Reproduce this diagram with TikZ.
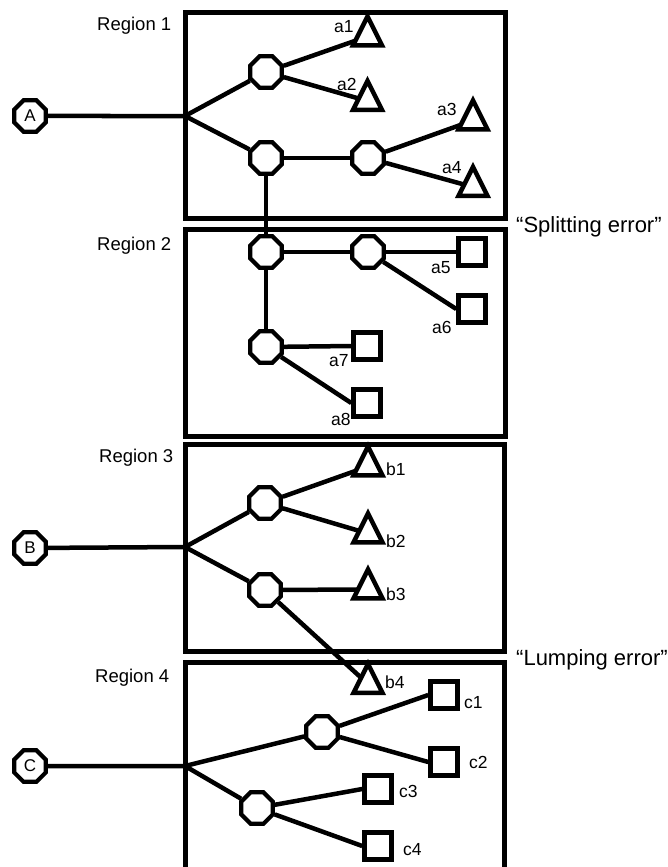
\documentclass[tikz,border=0pt]{standalone}
\usepackage{fontspec}
\setmainfont{Liberation Sans}
\usetikzlibrary{shapes.geometric}
\begin{document}
\begin{tikzpicture}[x=1pt,y=-1pt]
\tikzset{
 boxline/.style={line width=5pt},
 conn/.style={line width=4.5pt},
 oct/.style={draw, regular polygon, regular polygon sides=8, minimum size=34pt, inner sep=0pt, line width=4.2pt, fill=white},
 tri/.style={draw, isosceles triangle, isosceles triangle stretches, shape border rotate=90, minimum width=29pt, minimum height=29pt, inner sep=0pt, outer sep=0pt, line width=4.5pt, fill=white},
 sq/.style={draw, rectangle, minimum size=27pt, inner sep=0pt, line width=4.5pt, fill=white},
 reglab/.style={font=\fontsize{18.5}{20}\selectfont, anchor=base west, inner sep=0pt},
 errlab/.style={font=\fontsize{22}{24}\selectfont, anchor=base west, inner sep=0pt},
 leaflab/.style={font=\fontsize{17.5}{19}\selectfont, anchor=base west, inner sep=0pt},
 letter/.style={oct, font=\fontsize{17}{18}\selectfont},
}
\useasboundingbox (0,0) rectangle (668,867);
% region boxes
\draw[boxline] (185,13) rectangle (505,218);
\draw[boxline] (185,229) rectangle (505,436);
\draw[boxline] (185,444) rectangle (504,651);
\draw[boxline] (185,875) -- (185,662) -- (504,662) -- (504,875);
% region labels
\node[reglab] (r1) at (97,31) {Region 1};
\node[reglab] (r2) at (97,250) {Region 2};
\node[reglab] (r3) at (99,462) {Region 3};
\node[reglab] (r4) at (95,682) {Region 4};
\node[errlab] (split) at (516,232) {“Splitting error”};
\node[errlab] (lump) at (516,665) {“Lumping error”};
% hubs
\coordinate (h1) at (185,116);
\coordinate (h3) at (185,547);
\coordinate (h4) at (185,766);
% roots
\node[letter] (A) at (30,116) {A};
\node[letter] (B) at (30,548) {B};
\node[letter] (C) at (30,766) {C};
% region 1
\node[oct] (o11) at (266,72) {};
\node[oct] (o12) at (266,158) {};
\node[oct] (o13) at (368,158) {};
\node[tri] (a1) at (367.5,36.5) {};
\node[tri] (a2) at (367.5,101) {};
\node[tri] (a3) at (473,120.5) {};
\node[tri] (a4) at (473,187) {};
% region 2
\node[oct] (o21) at (266,252) {};
\node[oct] (o22) at (368,252) {};
\node[oct] (o23) at (266,347) {};
\node[sq] (a5) at (472,252) {};
\node[sq] (a6) at (472,309) {};
\node[sq] (a7) at (367,346) {};
\node[sq] (a8) at (367,403) {};
% region 3
\node[oct] (o31) at (265,503) {};
\node[oct] (o32) at (265,590) {};
\node[tri] (b1) at (368,466.5) {};
\node[tri] (b2) at (368,533.5) {};
\node[tri] (b3) at (368,589.5) {};
\node[tri] (b4) at (368,684) {};
% region 4
\node[oct] (o41) at (322,732) {};
\node[oct] (o42) at (257,808) {};
\node[sq] (c1) at (444,695) {};
\node[sq] (c2) at (444,762) {};
\node[sq] (c3) at (378,789) {};
\node[sq] (c4) at (378,846) {};
% connectors
\draw[conn] (A) -- (h1);
\draw[conn] (h1) -- (o11);
\draw[conn] (h1) -- (o12);
\draw[conn] (o11) -- (a1);
\draw[conn] (o11) -- (a2);
\draw[conn] (o12) -- (o13);
\draw[conn] (o13) -- (a3);
\draw[conn] (o13) -- (a4);
\draw[conn] (o12) -- (o21);
\draw[conn] (o21) -- (o22);
\draw[conn] (o22) -- (a5.west);
\draw[conn] (o22) -- (a6.west);
\draw[conn] (o21) -- (o23);
\draw[conn] (o23) -- (a7.west);
\draw[conn] (o23) -- (a8.west);
\draw[conn] (B) -- (h3);
\draw[conn] (h3) -- (o31);
\draw[conn] (h3) -- (o32);
\draw[conn] (o31) -- (b1);
\draw[conn] (o31) -- (b2);
\draw[conn] (o32) -- (b3);
\draw[conn] (o32) -- (b4);
\draw[conn] (C) -- (h4);
\draw[conn] (h4) -- (o41);
\draw[conn] (h4) -- (o42);
\draw[conn] (o41) -- (c1.west);
\draw[conn] (o41) -- (c2.west);
\draw[conn] (o42) -- (c3.west);
\draw[conn] (o42) -- (c4.west);
% leaf labels
\node[leaflab] (la1) at (334,33) {a1};
\node[leaflab] (la2) at (337,90) {a2};
\node[leaflab] (la3) at (437,115) {a3};
\node[leaflab] (la4) at (442,173) {a4};
\node[leaflab] (la5) at (431,273) {a5};
\node[leaflab] (la6) at (432,333) {a6};
\node[leaflab] (la7) at (329,366) {a7};
\node[leaflab] (la8) at (331,425) {a8};
\node[leaflab] (lb1) at (386,475) {b1};
\node[leaflab] (lb2) at (386,547) {b2};
\node[leaflab] (lb3) at (386,600) {b3};
\node[leaflab] (lb4) at (385,688) {b4};
\node[leaflab] (lc1) at (464,708) {c1};
\node[leaflab] (lc2) at (469,768) {c2};
\node[leaflab] (lc3) at (399,797) {c3};
\node[leaflab] (lc4) at (403,855) {c4};
\end{tikzpicture}
\end{document}
